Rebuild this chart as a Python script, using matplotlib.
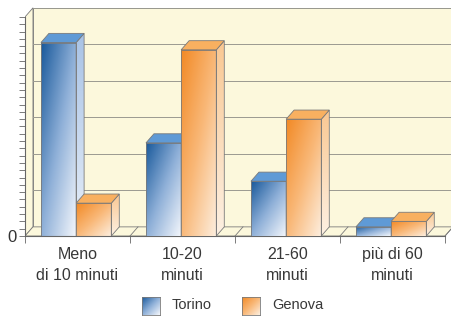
import numpy as np
import matplotlib.pyplot as plt
from matplotlib.colors import LinearSegmentedColormap
from matplotlib.patches import Polygon, Rectangle

plt.rcParams['font.family'] = ['Liberation Sans', 'DejaVu Sans']

# data (same units as the back-wall grid)
categories = ['Meno\ndi 10 minuti', '10-20\nminuti', '21-60\nminuti', 'più di 60\nminuti']
torino = [53, 25.5, 15, 2.5]
genova = [9, 51, 32, 4]
series = ['Torino', 'Genova']

# pseudo-3D settings
dx, dy = 0.076, 2.5      # depth offset in data units
bar_w = 0.335
bar_off = 0.152
ytop = 60

W, H = 452, 316
fig = plt.figure(figsize=(W / 100, H / 100), dpi=100)
ax = fig.add_axes([25 / W, 80 / H, 427 / W, 230 / H])

wall = '#fcf8dc'
edge = '#7a7a7a'
ncat = len(categories)

# walls and floor
ax.add_patch(Polygon([(dx, dy), (ncat + dx, dy), (ncat + dx, ytop + dy), (dx, ytop + dy)],
                     closed=True, fc=wall, ec=edge, lw=0.6, zorder=0))
ax.add_patch(Polygon([(0, 0), (dx, dy), (dx, ytop + dy), (0, ytop)],
                     closed=True, fc=wall, ec=edge, lw=0.6, zorder=0))
ax.add_patch(Polygon([(0, 0), (ncat, 0), (ncat + dx, dy), (dx, dy)],
                     closed=True, fc=wall, ec=edge, lw=0.6, zorder=0))
for g in range(10, ytop + 1, 10):
    ax.plot([dx, ncat + dx], [g + dy, g + dy], color='#9a9a90', lw=0.7, zorder=1)
for k in range(1, ncat + 1):
    ax.plot([k, k + dx], [0, dy], color=edge, lw=0.6, zorder=1)

cmaps = {
    'Torino': dict(front=LinearSegmentedColormap.from_list('tf', ['#f4f7fc', '#8fb0d8', '#1a5a9c']),
                   side=LinearSegmentedColormap.from_list('ts', ['#e6eef8', '#a9c3e6']),
                   top='#5f9ad6'),
    'Genova': dict(front=LinearSegmentedColormap.from_list('gf', ['#fdeede', '#f9b878', '#f28a26']),
                   side=LinearSegmentedColormap.from_list('gs', ['#fdf0e2', '#f9c893']),
                   top='#f8b060'),
}

u = np.linspace(0, 1, 40)
U, V = np.meshgrid(u, u)  # imshow origin upper: row 0 is the top
grad_front = 1 - np.clip(0.5 * U + 0.5 * V, 0, 1)   # top-left dark, bottom-right light
grad_side = 1 - V


def draw_bar(x0, h, name, z):
    c = cmaps[name]
    # front face
    ax.imshow(grad_front, extent=(x0, x0 + bar_w, 0, h), cmap=c['front'],
              vmin=0, vmax=1, aspect='auto', interpolation='bilinear', zorder=z)
    ax.add_patch(Rectangle((x0, 0), bar_w, h, fc='none', ec=edge, lw=0.6, zorder=z + 0.2))
    # side face
    side = Polygon([(x0 + bar_w, 0), (x0 + bar_w + dx, dy), (x0 + bar_w + dx, h + dy), (x0 + bar_w, h)],
                   closed=True, fc='none', ec=edge, lw=0.6, zorder=z + 0.2)
    ax.add_patch(side)
    im2 = ax.imshow(grad_side, extent=(x0 + bar_w, x0 + bar_w + dx, 0, h + dy), cmap=c['side'],
                    vmin=0, vmax=1, aspect='auto', interpolation='bilinear', zorder=z + 0.1)
    im2.set_clip_path(side)
    # top face
    ax.add_patch(Polygon([(x0, h), (x0 + bar_w, h), (x0 + bar_w + dx, h + dy), (x0 + dx, h + dy)],
                         closed=True, fc=c['top'], ec=edge, lw=0.6, zorder=z + 0.2))


for i in range(ncat):
    x0 = i + bar_off
    draw_bar(x0, torino[i], 'Torino', 2 + i)
    draw_bar(x0 + bar_w, genova[i], 'Genova', 2.5 + i)

ax.set_xlim(0, 427 / 105)
ax.set_ylim(0, 63)

# axes
for s in ['top', 'right']:
    ax.spines[s].set_visible(False)
ax.spines['left'].set_bounds(0, ytop)
ax.spines['bottom'].set_bounds(0, ncat)
for s in ['left', 'bottom']:
    ax.spines[s].set_color('#666666')
    ax.spines[s].set_linewidth(0.8)
yt = np.arange(0, ytop + 1, 2)
ax.set_yticks(yt)
ax.set_yticklabels(['0'] + [''] * (len(yt) - 1))
ax.tick_params(axis='y', length=4, width=0.6, color='#666666', labelsize=12,
               labelcolor='#333333', pad=2)
ax.set_xticks(range(ncat + 1))
ax.set_xticklabels([''] * (ncat + 1))
ax.tick_params(axis='x', which='major', length=5, width=0.6, color='#666666')
ax.set_xticks(np.arange(ncat) + 0.5, minor=True)
ax.set_xticklabels(categories, minor=True, fontsize=11.5, color='#383838', linespacing=1.45)
ax.tick_params(axis='x', which='minor', length=0, pad=8)

# legend
leg_cmap = [cmaps['Torino']['front'], cmaps['Genova']['front']]
leg_x = [142, 242]
for name, cm, lx in zip(series, leg_cmap, leg_x):
    lax = fig.add_axes([lx / W, (H - 315) / H, 18 / W, 18 / H])
    lax.imshow(grad_front, cmap=cm, vmin=0, vmax=1, aspect='auto', interpolation='bilinear')
    lax.set_xticks([])
    lax.set_yticks([])
    for sp in lax.spines.values():
        sp.set_color(edge)
        sp.set_linewidth(0.6)
    fig.text((lx + 30) / W, (H - 305) / H, name, fontsize=10.5, color='#383838', va='center')

fig.savefig('out.png', dpi=100, facecolor='white')
